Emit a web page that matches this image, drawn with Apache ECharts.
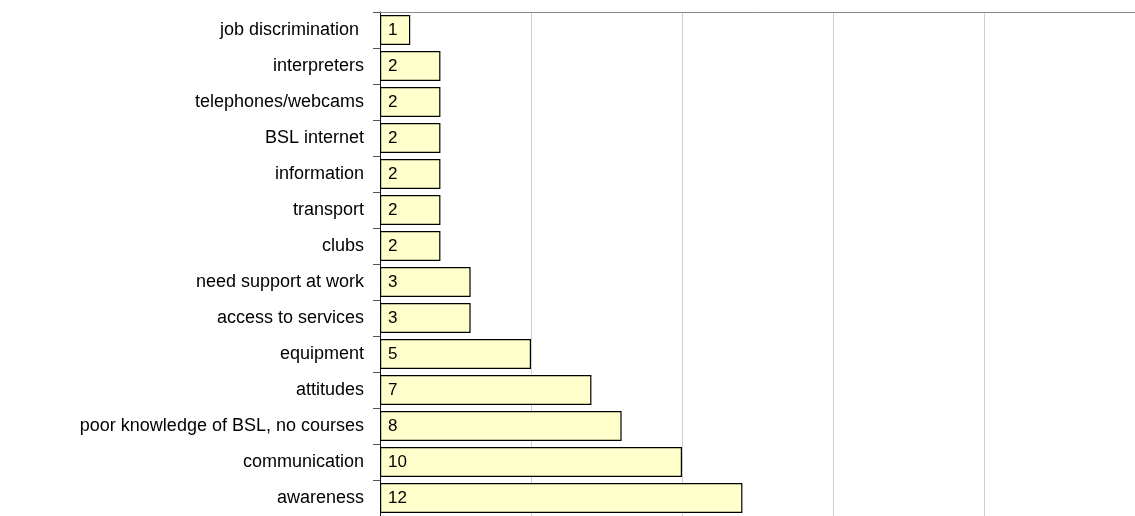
<!DOCTYPE html>
<html>
<head>
<meta charset="utf-8">
<script src="https://cdn.jsdelivr.net/npm/echarts@6/dist/echarts.min.js"></script>
<style>
  html, body { margin: 0; padding: 0; background: #fff; }
  #chart { width: 1135px; height: 516px; }
</style>
</head>
<body>
<div id="chart"></div>
<script>
var categories = [
  "job discrimination ",
  "interpreters",
  "telephones/webcams",
  "BSL internet",
  "information",
  "transport",
  "clubs",
  "need support at work",
  "access to services",
  "equipment",
  "attitudes",
  "poor knowledge of BSL, no courses",
  "communication",
  "awareness"
];
var counts = [1, 2, 2, 2, 2, 2, 2, 3, 3, 5, 7, 8, 10, 12];

var chart = echarts.init(document.getElementById("chart"));
chart.setOption({
  animation: false,
  grid: {
    left: 380,
    right: -7,
    top: 12,
    bottom: -6,
    containLabel: false
  },
  xAxis: {
    type: "value",
    position: "top",
    min: 0,
    max: 25,
    interval: 5,
    axisLine: { show: true, lineStyle: { color: "#888", width: 1 } },
    axisTick: { show: false },
    axisLabel: { show: false },
    splitLine: { show: true, lineStyle: { color: "#d0d0d0", width: 1 } }
  },
  yAxis: {
    type: "category",
    inverse: true,
    data: categories,
    axisLine: { show: true, lineStyle: { color: "#111", width: 1 } },
    axisTick: { show: true, length: 7, lineStyle: { color: "#555" } },
    axisLabel: {
      color: "#000",
      fontFamily: "Liberation Sans, Arial, sans-serif",
      fontSize: 18,
      margin: 16
    }
  },
  series: [
    {
      type: "bar",
      data: counts,
      barWidth: 30,
      itemStyle: {
        color: "#ffffcc",
        borderColor: "#000",
        borderWidth: 1.2
      },
      label: {
        show: true,
        position: "insideLeft",
        distance: 8,
        color: "#000",
        fontFamily: "Liberation Sans, Arial, sans-serif",
        fontSize: 17
      }
    }
  ]
});
</script>
</body>
</html>
